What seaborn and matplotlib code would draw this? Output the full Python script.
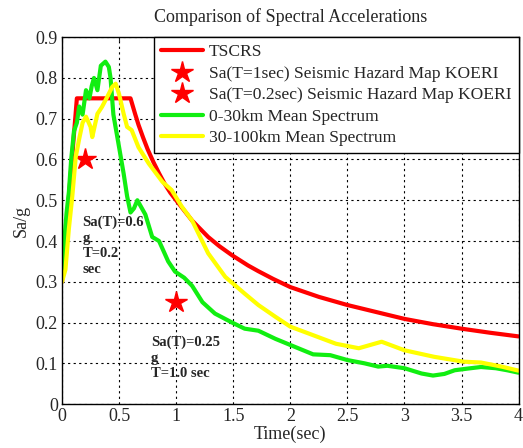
import numpy as np
import pandas as pd
import matplotlib
matplotlib.use("Agg")
import matplotlib.pyplot as plt
import seaborn as sns

# TSCRS design spectrum
t_tscrs = [0.0, 0.13, 0.60, 0.64, 0.67, 0.71, 0.75, 0.80, 0.85, 0.90, 0.95, 1.0, 1.07,
           1.14, 1.21, 1.28, 1.38, 1.49, 1.63, 1.72, 1.85, 2.0, 2.25, 2.5, 2.75,
           3.0, 3.25, 3.5, 3.75, 4.0]
sa_tscrs = [0.30, 0.75, 0.75, 0.712, 0.685, 0.654, 0.625, 0.594, 0.566, 0.54, 0.518,
            0.50, 0.475, 0.45, 0.43, 0.41, 0.387, 0.365, 0.34, 0.326, 0.307, 0.287,
            0.263, 0.243, 0.226, 0.209, 0.196, 0.185, 0.175, 0.166]

# 0-30km mean spectrum
t_near = [0.0, 0.017, 0.04, 0.06, 0.08, 0.105, 0.13, 0.15, 0.18, 0.21, 0.24, 0.26, 0.28,
          0.31, 0.34, 0.38, 0.41, 0.425, 0.45, 0.5, 0.54, 0.57, 0.6, 0.63, 0.66, 0.7,
          0.73, 0.79, 0.85, 0.93, 0.99, 1.07, 1.14, 1.23, 1.34, 1.49, 1.6, 1.72, 1.87,
          2.0, 2.2, 2.35, 2.5, 2.65, 2.77, 2.85, 3.0, 3.15, 3.25, 3.35, 3.44, 3.55,
          3.67, 3.8, 3.9, 4.0]
sa_near = [0.33, 0.39, 0.47, 0.52, 0.60, 0.67, 0.69, 0.73, 0.71, 0.77, 0.75, 0.78, 0.80,
           0.77, 0.83, 0.84, 0.827, 0.80, 0.71, 0.63, 0.565, 0.51, 0.47, 0.48, 0.50, 0.48,
           0.465, 0.41, 0.40, 0.35, 0.325, 0.31, 0.29, 0.25, 0.222, 0.20, 0.185, 0.18,
           0.16, 0.145, 0.122, 0.12, 0.108, 0.10, 0.092, 0.094, 0.088, 0.075, 0.07,
           0.074, 0.083, 0.087, 0.091, 0.088, 0.083, 0.077]

# 30-100km mean spectrum
t_far = [0.0, 0.03, 0.06, 0.09, 0.12, 0.15, 0.18, 0.21, 0.25, 0.265, 0.31, 0.35,
         0.395, 0.44, 0.47, 0.5, 0.54, 0.57, 0.61, 0.67, 0.76, 0.88, 0.96, 1.05,
         1.14, 1.28, 1.43, 1.6, 1.72, 1.87, 2.0, 2.2, 2.4, 2.6, 2.8, 3.0, 3.26,
         3.52, 3.67, 3.85, 4.0]
sa_far = [0.30, 0.33, 0.43, 0.51, 0.606, 0.65, 0.69, 0.705, 0.68, 0.655, 0.712, 0.729,
          0.753, 0.778, 0.786, 0.76, 0.712, 0.68, 0.672, 0.63, 0.59, 0.545, 0.525, 0.484,
          0.45, 0.37, 0.312, 0.271, 0.243, 0.214, 0.19, 0.169, 0.148, 0.137, 0.153,
          0.132, 0.116, 0.104, 0.102, 0.092, 0.082]

# KOERI hazard map points
t_star1, sa_star1 = [1.0], [0.25]
t_star2, sa_star2 = [0.2], [0.6]

labels = ["TSCRS",
          "Sa(T=1sec) Seismic Hazard Map KOERI",
          "Sa(T=0.2sec) Seismic Hazard Map KOERI",
          "0-30km Mean Spectrum",
          "30-100km Mean Spectrum"]

sns.set_style("white")
plt.rcParams['font.family'] = ['Liberation Serif', 'DejaVu Serif']

fig = plt.figure(figsize=(5.23, 4.48), dpi=100)
ax = fig.add_axes([0.1186, 0.098, 0.873, 0.819])

red, green, yellow = "#ff0000", "#11ee11", "#ffff00"

sns.lineplot(x=t_tscrs, y=sa_tscrs, ax=ax, color=red, lw=3, sort=False,
             estimator=None, label=labels[0])
ax.plot(t_star1, sa_star1, ls="none", marker="*", ms=16, color=red, mec=red,
        label=labels[1])
ax.plot(t_star2, sa_star2, ls="none", marker="*", ms=16, color=red, mec=red,
        label=labels[2])
sns.lineplot(x=t_near, y=sa_near, ax=ax, color=green, lw=3, sort=False,
             estimator=None, label=labels[3])
sns.lineplot(x=t_far, y=sa_far, ax=ax, color=yellow, lw=3, sort=False,
             estimator=None, label=labels[4])

ax.set_xlim(0, 4)
ax.set_ylim(0, 0.9)
xt = np.arange(0, 4.01, 0.5)
yt = np.arange(0, 0.91, 0.1)
ax.set_xticks(xt)
ax.set_xticklabels([f"{v:g}" for v in xt])
ax.set_yticks(yt)
ax.set_yticklabels([f"{v:g}" for v in yt])
ax.tick_params(labelsize=13, direction="in", length=3, top=True, right=True, pad=3)
ax.grid(True, color="black", ls=(0, (2, 3)), lw=0.8)
for s in ax.spines.values():
    s.set_color("black")
    s.set_linewidth(1)

ax.set_title("Comparison of Spectral Accelerations", fontsize=13, pad=11)
ax.set_xlabel("Time(sec)", fontsize=13, labelpad=0)
ax.set_ylabel("Sa/g", fontsize=13, labelpad=4)

ax.text(0.18, 0.462, "Sa(T)=0.6\ng\nT=0.2\nsec", fontsize=10.5, fontweight="bold",
        va="top", ha="left", linespacing=1.25)
ax.text(0.78, 0.168, "Sa(T)=0.25\ng\nT=1.0 sec", fontsize=10.5, fontweight="bold",
        va="top", ha="left", linespacing=1.25)

leg = ax.legend(loc="upper right", fontsize=12.6, frameon=True, fancybox=False,
                edgecolor="black", borderaxespad=0, handlelength=2.4,
                labelspacing=0.3, borderpad=0.4, handletextpad=0.35)
leg.get_frame().set_linewidth(1)
leg.get_frame().set_alpha(1)

fig.savefig("out.png", dpi=100)
